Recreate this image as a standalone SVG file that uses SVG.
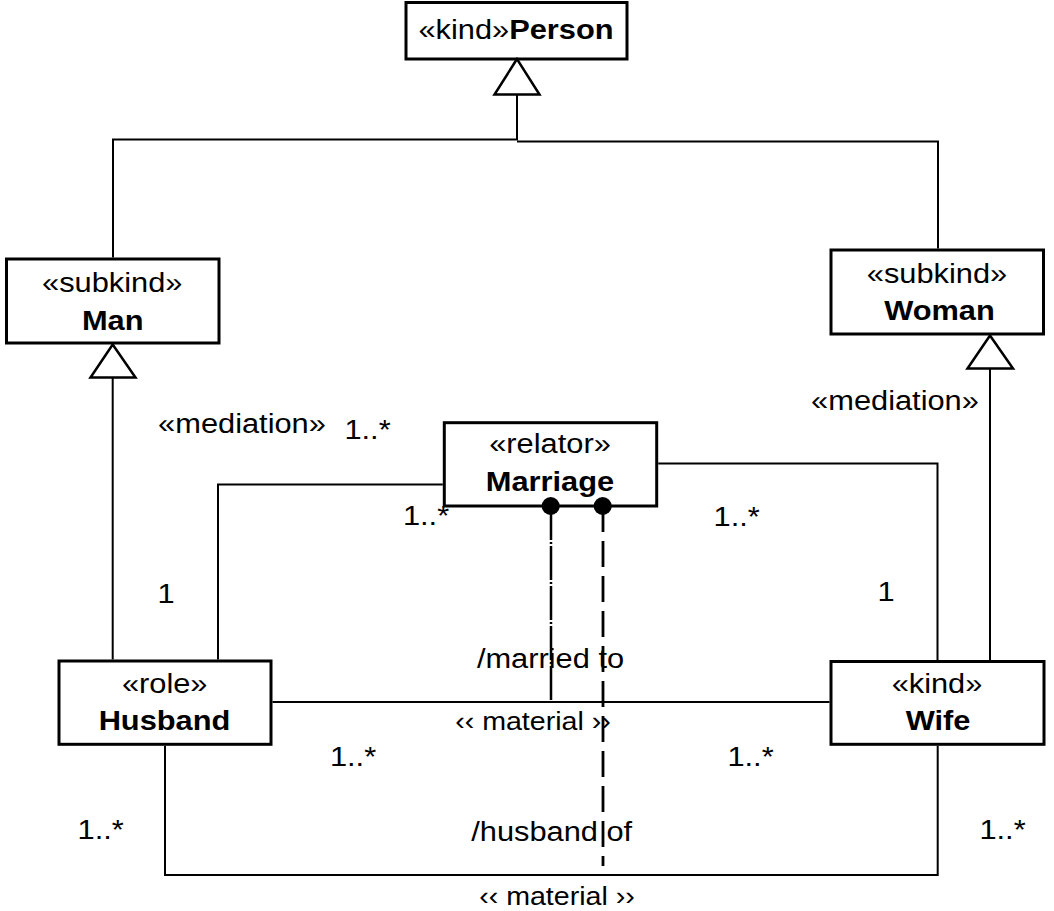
<svg xmlns="http://www.w3.org/2000/svg" width="1054" height="911" viewBox="0 0 1054 911">
<style>
text{font-family:"Liberation Sans",Arial,sans-serif;font-size:28px;fill:#000;text-anchor:middle}
.b{font-weight:bold}
.m{font-size:26px}
.box{fill:#fff;stroke:#000;stroke-width:3}
.ln{fill:none;stroke:#000;stroke-width:2}
.tri{fill:#fff;stroke:#000;stroke-width:2.5;stroke-linejoin:miter}
.dd{fill:none;stroke:#000;stroke-width:2.5;stroke-dasharray:34 2 2 2}
.da{fill:none;stroke:#000;stroke-width:2.8;stroke-dasharray:26 9}
</style>
<rect width="1054" height="911" fill="#fff"/>
<g id="person">
<rect class="box" x="406" y="2.5" width="221" height="56.5"/>
<text transform="translate(516,39) scale(1.1,1)">«kind»<tspan class="b">Person</tspan></text>
</g>
<g id="man">
<rect class="box" x="6.5" y="259" width="212.5" height="84"/>
<text transform="translate(112.2,291.5) scale(1.1,1)">«subkind»</text>
<text class="b" transform="translate(112.7,330) scale(1.1,1)">Man</text>
</g>
<g id="woman">
<rect class="box" x="831" y="250" width="212.5" height="84"/>
<text transform="translate(937,283.3) scale(1.1,1)">«subkind»</text>
<text class="b" transform="translate(939.5,320) scale(1.1,1)">Woman</text>
</g>
<g id="marriage">
<rect class="box" x="444.3" y="422.7" width="212.4" height="83.3"/>
<text transform="translate(550,453) scale(1.1,1)">«relator»</text>
<text class="b" transform="translate(550,491) scale(1.1,1)">Marriage</text>
</g>
<g id="husband">
<rect class="box" x="59" y="661" width="212" height="83.3"/>
<text transform="translate(164.7,693) scale(1.1,1)">«role»</text>
<text class="b" transform="translate(164.5,730) scale(1.1,1)">Husband</text>
</g>
<g id="wife">
<rect class="box" x="831" y="661.5" width="213" height="82.8"/>
<text transform="translate(937,693) scale(1.1,1)">«kind»</text>
<text class="b" transform="translate(938,730) scale(1.1,1)">Wife</text>
</g>
<g id="connectors">
<polyline class="ln" points="113,257.5 113,139.5 517,139.5 517,94"/>
<polyline class="ln" points="938,248.5 938,141.5 517,141.5"/>
<polygon class="tri" points="517,59 494.5,94.5 539.5,94.5"/>
<line class="ln" x1="112.7" y1="659.5" x2="112.7" y2="377.5"/>
<polygon class="tri" points="112.7,344.5 90.5,377.5 135.5,377.5"/>
<line class="ln" x1="990" y1="660" x2="990" y2="368.5"/>
<polygon class="tri" points="990,335.5 967.5,368.5 1013,368.5"/>
<polyline class="ln" points="442.8,484.5 218,484.5 218,659.5"/>
<polyline class="ln" points="658.2,463.5 937.5,463.5 937.5,660"/>
<line class="ln" x1="272.5" y1="702" x2="829.5" y2="702"/>
<polyline class="ln" points="165,745.8 165,875 937.7,875 937.7,745.8"/>
<line class="dd" x1="551" y1="506" x2="551" y2="701"/>
<line class="da" x1="603" y1="506" x2="603" y2="866"/>
<circle cx="550.7" cy="506" r="9" fill="#000"/>
<circle cx="602.7" cy="506" r="9" fill="#000"/>
<text transform="translate(242,433) scale(1.1,1)">«mediation»</text>
<text transform="translate(367.5,439) scale(1.1,1)">1..*</text>
<text transform="translate(895,410) scale(1.1,1)">«mediation»</text>
<text transform="translate(426,525) scale(1.1,1)">1..*</text>
<text transform="translate(736.7,526) scale(1.1,1)">1..*</text>
<text transform="translate(166,603) scale(1.1,1)">1</text>
<text transform="translate(886,601) scale(1.1,1)">1</text>
<text transform="translate(550.5,668) scale(1.1,1)">/married to</text>
<text class="m" transform="translate(533,730) scale(1.1,1)">‹‹ material ››</text>
<text transform="translate(551.7,841) scale(1.1,1)">/husband of</text>
<text class="m" transform="translate(557,905) scale(1.1,1)">‹‹ material ››</text>
<text transform="translate(353,766) scale(1.1,1)">1..*</text>
<text transform="translate(100.7,839) scale(1.1,1)">1..*</text>
<text transform="translate(750.5,766) scale(1.1,1)">1..*</text>
<text transform="translate(1002.5,839) scale(1.1,1)">1..*</text>
</g>
</svg>
